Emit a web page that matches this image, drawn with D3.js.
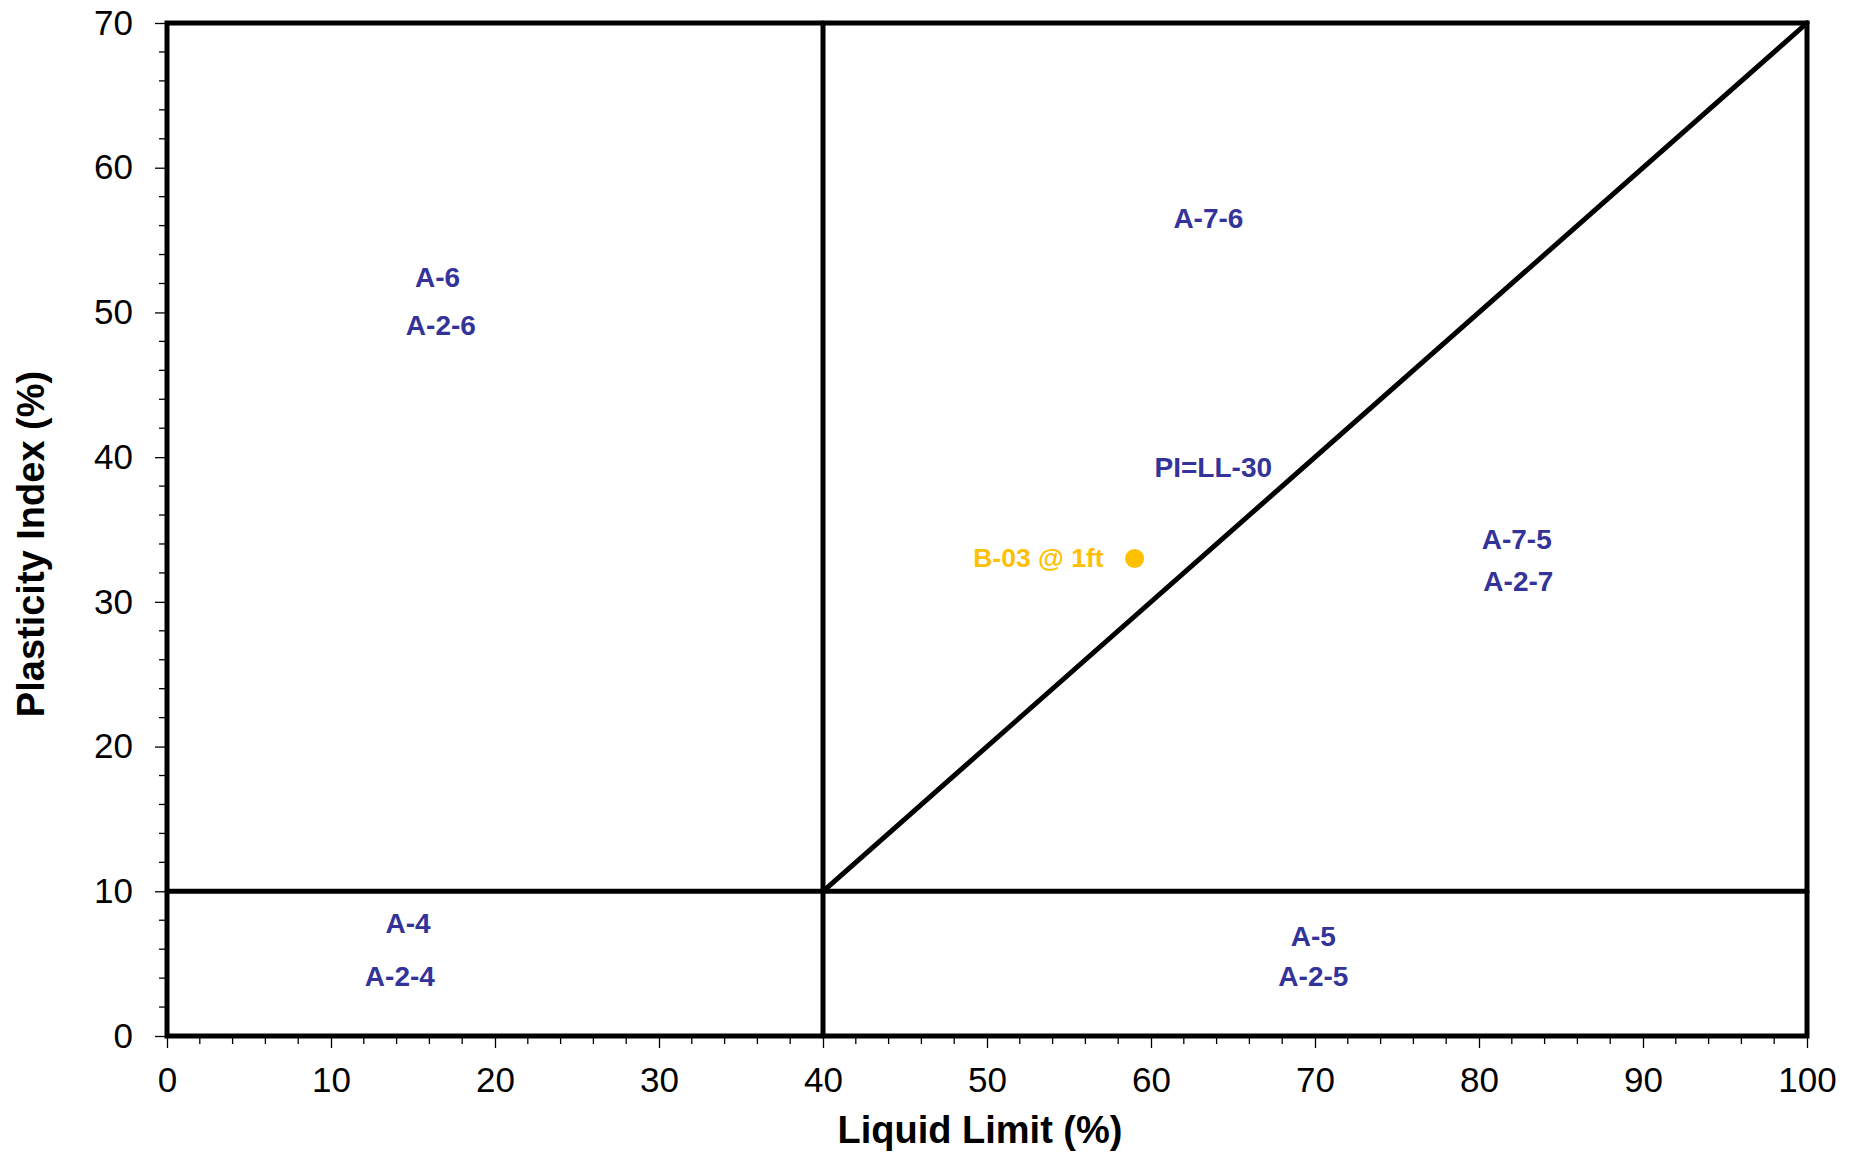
<!DOCTYPE html>
<html><head><meta charset="utf-8">
<script src="https://cdn.jsdelivr.net/npm/d3@7"></script>
<style>body{margin:0;background:#fff}svg{display:block}text{font-family:Arial,"Liberation Sans",sans-serif}</style>
</head><body>
<script>
// Data
const xTicks = [0,10,20,30,40,50,60,70,80,90,100];
const yTicks = [0,10,20,30,40,50,60,70];
const boundaryLines = [
  {x1:40, y1:0, x2:40, y2:70},
  {x1:0, y1:10, x2:100, y2:10},
  {x1:40, y1:10, x2:100, y2:70}
];
const zoneNames = ["A-6","A-2-6","A-7-6","PI=LL-30","A-7-5","A-2-7","A-4","A-2-4","A-5","A-2-5"];
const zoneX = [16.5,16.7,63.5,63.8,82.3,82.4,14.7,14.2,69.9,69.9];
const zoneY = [52.4,49.1,56.5,39.3,34.3,31.4,7.8,4.1,6.9,4.1];
const sampleNames = ["B-03 @ 1ft"];
const sampleLL = [59];
const samplePI = [33];

const W = 1855, H = 1154;
const m = {left:167, right:W-1807, top:23, bottom:H-1036};
const svg = d3.select("body").append("svg").attr("width",W).attr("height",H);
const x = d3.scaleLinear().domain([0,100]).range([m.left, W-m.right]);
const y = d3.scaleLinear().domain([0,70]).range([H-m.bottom, m.top]);

// minor ticks
const xMinor = d3.range(0,101,2).filter(v=>v%10!==0);
const yMinor = d3.range(0,71,2).filter(v=>v%10!==0);
svg.append("g").selectAll("line").data(xMinor).join("line")
  .attr("x1",d=>x(d)).attr("x2",d=>x(d)).attr("y1",y(0)).attr("y2",y(0)+8)
  .attr("stroke","#000").attr("stroke-width",1.3);
svg.append("g").selectAll("line").data(yMinor).join("line")
  .attr("y1",d=>y(d)).attr("y2",d=>y(d)).attr("x1",x(0)).attr("x2",x(0)-8)
  .attr("stroke","#000").attr("stroke-width",1.3);

// axes
const xAxis = svg.append("g").attr("transform",`translate(0,${y(0)})`)
  .call(d3.axisBottom(x).tickValues(xTicks).tickSize(12).tickPadding(18));
const yAxis = svg.append("g").attr("transform",`translate(${x(0)},0)`)
  .call(d3.axisLeft(y).tickValues(yTicks).tickSize(12).tickPadding(22));
[xAxis,yAxis].forEach(g=>{
  g.select(".domain").remove();
  g.selectAll(".tick line").attr("stroke","#000").attr("stroke-width",1.3);
  g.selectAll(".tick text").attr("font-size",35).attr("fill","#000")
   .style("font-family","Arial, 'Liberation Sans', sans-serif");
});
xAxis.selectAll(".tick text").attr("dy","0.75em");

// frame
svg.append("rect").attr("x",x(0)).attr("y",y(70)).attr("width",x(100)-x(0)).attr("height",y(0)-y(70))
  .attr("fill","none").attr("stroke","#000").attr("stroke-width",5);

// boundary lines
svg.append("g").selectAll("line").data(boundaryLines).join("line")
  .attr("x1",d=>x(d.x1)).attr("y1",d=>y(d.y1)).attr("x2",d=>x(d.x2)).attr("y2",d=>y(d.y2))
  .attr("stroke","#000").attr("stroke-width",5).attr("stroke-linecap","round");

// zone labels
svg.append("g").selectAll("text").data(zoneNames).join("text")
  .attr("x",(d,i)=>x(zoneX[i])).attr("y",(d,i)=>y(zoneY[i]))
  .attr("text-anchor","middle").attr("dominant-baseline","central")
  .attr("font-size",28).attr("font-weight","bold").attr("fill","#333399").text(d=>d);

// sample
svg.append("g").selectAll("circle").data(sampleNames).join("circle")
  .attr("cx",(d,i)=>x(sampleLL[i])).attr("cy",(d,i)=>y(samplePI[i])).attr("r",9.5).attr("fill","#FFC000");
svg.append("g").selectAll("text").data(sampleNames).join("text")
  .attr("x",(d,i)=>x(sampleLL[i])-31).attr("y",(d,i)=>y(samplePI[i]))
  .attr("text-anchor","end").attr("dominant-baseline","central")
  .attr("font-size",26.5).attr("font-weight","bold").attr("fill","#FFC000").text(d=>d);

// axis titles
svg.append("text").attr("x",980).attr("y",1143).attr("text-anchor","middle")
  .attr("font-size",38).attr("font-weight","bold").text("Liquid Limit (%)");
svg.append("text").attr("transform",`translate(44,${544}) rotate(-90)`).attr("text-anchor","middle")
  .attr("font-size",38).attr("font-weight","bold").text("Plasticity Index (%)");
</script>
</body></html>
